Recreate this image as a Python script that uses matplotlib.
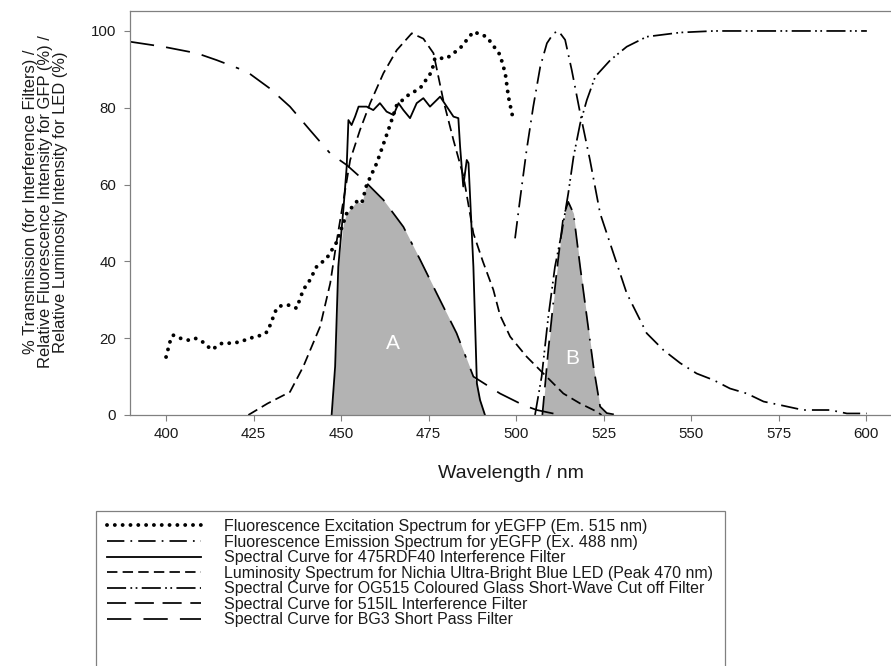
import numpy as np
import matplotlib.pyplot as plt
from matplotlib.patches import Rectangle

plt.rcParams['font.family'] = ['Liberation Sans', 'DejaVu Sans']

# Fluorescence excitation spectrum, yEGFP (dotted)
exc_x = [400, 401.1, 402, 404, 406.3, 408.3, 410.5, 413, 416, 418.5, 421, 424, 427.3, 429,
         431.6, 433, 435, 437.3, 439.2, 441, 443, 445.9, 448.8, 451.6, 454.5, 455.9, 457.3,
         460.2, 463.5, 465.9, 469.2, 472.6, 475.9, 476.8, 480.2, 484, 487.8, 491.6, 495.4,
         496.9, 497.8, 499.3]
exc_y = [15.1, 19, 20.8, 20, 19.5, 20, 19, 17, 18.7, 18.7, 19, 20, 20.8, 21.7,
         27.8, 28.5, 28.6, 27.8, 32.6, 35, 38.6, 40.8, 45.1, 52.5, 55.6, 55.1, 59.9,
         65.6, 74.2, 80.7, 83.3, 85.1, 89.4, 92.9, 92.9, 95.5, 99.8, 98.5, 93.8,
         89, 82.9, 76.4]

# Fluorescence emission spectrum, yEGFP (dash-dot)
em_x = [499.7, 501.1, 503, 504.9, 506.9, 508.8, 510.7, 512.1, 514, 515.9, 518.3, 521.1, 524,
        527.8, 531.6, 537.3, 542.1, 546.9, 551.6, 556.4, 561.1, 565.9, 570.7, 575.4, 582,
        589.7, 594.5, 600.2]
em_y = [46, 56, 69, 80.3, 90.7, 96.8, 99.4, 100, 97.7, 89.8, 78.6, 66.4, 52.5,
        42.1, 31.7, 21.3, 16.9, 13.5, 10.8, 9.1, 6.9, 5.6, 3.5, 2.6, 1.3,
        1.3, 0.4, 0.4]

# 475RDF40 interference filter (solid)
rdf_x = [447.3, 448.3, 449.2, 450.7, 451.6, 452.1, 453, 454, 455, 457.3, 459.2, 461.1, 463,
         465, 466.4, 467.8, 469.7, 471.6, 473.5, 475.4, 477.3, 478.3, 480.2, 482.1, 483.5,
         484, 484.9, 485.9, 486.4, 486.9, 487.8, 488.8, 489.7, 491.1]
rdf_y = [0, 12.6, 38.6, 54, 64.6, 76.8, 75.5, 77.7, 80.3, 80.3, 79.4, 81.2, 79,
         78.1, 81.2, 79.4, 77.3, 81.2, 82.5, 80.3, 82, 82.9, 80.3, 77.7, 77.3,
         69.9, 59.5, 66.4, 65.6, 56, 38.6, 8.2, 3.9, 0]

# Nichia blue LED luminosity (short dash)
led_x = [423.5, 429, 435.4, 439.2, 444, 446.9, 448.8, 450.7, 452.6, 455.4, 458.3, 462.1,
         465.9, 470.2, 473.5, 476.4, 479.2, 482.1, 485, 487.8, 490.5, 493.5, 495.4, 498.3,
         503, 507.8, 513.5, 518.3, 523, 524.4]
led_y = [0, 3, 6, 12.6, 23, 34.3, 45.6, 56, 66.4, 74.2, 81.2, 89,
         95, 99.4, 98, 94.2, 82, 71.6, 62, 47.3, 40, 32.6, 26, 20.4,
         15.2, 10.8, 5.6, 3, 0.9, 0]

# OG515 coloured glass (dash-dot-dot)
og_x = [505.4, 507.3, 509.2, 511.1, 513, 514.9, 516.4, 518.3, 520.2, 522.6, 526.9, 531.6,
        537.3, 546.9, 556.4, 570, 585, 600.2]
og_y = [0, 10, 25.6, 38.6, 47.3, 57.7, 67.2, 75.9, 82, 88.1, 92.4, 95.9,
        98.5, 99.6, 100, 100, 100, 100]

# 515IL interference filter
il_x = [507.5, 509.2, 510.7, 512.1, 513.5, 514.9, 516.4, 518.3, 520.2, 522.1, 524, 525.9, 528.8]
il_y = [0, 16.9, 29.9, 41.2, 51.6, 55.5, 52.5, 38.6, 25.6, 12.6, 2.2, 0.5, 0]

# BG3 short pass filter
bg_x = [389.7, 399.2, 408.8, 414.5, 423.1, 429.7, 435.4, 441.1, 446.9, 451.6, 456.4, 462.1,
        467.8, 472.6, 477.3, 483, 487.8, 491.6, 495.4, 502, 505.9, 512.6]
bg_y = [97.2, 95.9, 94.2, 92.4, 89.4, 85, 80.3, 74.2, 68.1, 65.1, 61.2, 56,
        49, 40.4, 31.7, 21.3, 10, 7.8, 5.6, 2.6, 1.3, 0]

labels = [
    "Fluorescence Excitation Spectrum for yEGFP (Em. 515 nm)",
    "Fluorescence Emission Spectrum for yEGFP (Ex. 488 nm)",
    "Spectral Curve for 475RDF40 Interference Filter",
    "Luminosity Spectrum for Nichia Ultra-Bright Blue LED (Peak 470 nm)",
    "Spectral Curve for OG515 Coloured Glass Short-Wave Cut off Filter",
    "Spectral Curve for 515IL Interference Filter",
    "Spectral Curve for BG3 Short Pass Filter",
]


def overlap(*curves):
    """Lower envelope of several (x, y) curves over the range of the first one."""
    x0 = curves[0][0]
    xs = np.unique(np.concatenate([c[0] for c in curves]))
    xs = xs[(xs >= x0[0]) & (xs <= x0[-1])]
    ys = [np.interp(xs, cx, cy, left=0, right=0) for cx, cy in curves]
    return xs, np.min(ys, axis=0)


fig = plt.figure(figsize=(8.91, 6.66), dpi=100)
ax = fig.add_axes([130 / 891, 1 - 415 / 666, 1 - 130 / 891, (415 - 11) / 666])

grey = '#808080'
fa_x, fa_y = overlap((rdf_x, rdf_y), (bg_x, bg_y), (exc_x, exc_y))
fb_x, fb_y = overlap((il_x, il_y), (og_x, og_y), (em_x, em_y))
ax.fill_between(fa_x, 0, fa_y, color='#b3b3b3', lw=0, zorder=1)
ax.fill_between(fb_x, 0, fb_y, color='#b3b3b3', lw=0, zorder=1)
ax.text(464.9, 18.7, "A", color='white', fontsize=15, ha='center', va='center', zorder=2)
ax.text(515.9, 14.8, "B", color='white', fontsize=15, ha='center', va='center', zorder=2)

lw = 1.25
ax.plot(exc_x, exc_y, color='black', lw=2.8, ls=(0, (0.01, 2.0)), dash_capstyle='round', label=labels[0])
ax.plot(em_x, em_y, color='black', lw=lw, ls=(0, (10, 3.5, 1, 3.5)), label=labels[1])
ax.plot(rdf_x, rdf_y, color='black', lw=1.3, ls='-', label=labels[2])
ax.plot(led_x, led_y, color='black', lw=lw, ls=(0, (6, 3)), label=labels[3])
ax.plot(og_x, og_y, color='black', lw=lw, ls=(0, (11, 2.5, 1, 2, 1, 2.5)), label=labels[4])
ax.plot(il_x, il_y, color='black', lw=lw, ls=(0, (11, 5, 11, 5, 11, 5, 11, 5, 1, 5)), label=labels[5])
ax.plot(bg_x, bg_y, color='black', lw=lw, ls=(0, (14, 7, 14, 7, 14, 7, 2, 7)), label=labels[6])

ax.set_xlim(389.7, 607.1)
ax.set_ylim(0, 105.2)
ax.set_xticks([400, 425, 450, 475, 500, 525, 550, 575, 600])
ax.set_yticks([0, 20, 40, 60, 80, 100])
ax.tick_params(direction='out', length=4, width=0.8, color=grey, labelsize=10.8,
               labelcolor='#1a1a1a')
ax.tick_params(axis='y', pad=6)
ax.tick_params(axis='x', pad=5)
for side in ['left', 'top', 'bottom']:
    ax.spines[side].set_color(grey)
    ax.spines[side].set_linewidth(0.9)
ax.spines['right'].set_visible(False)

ax.set_xlabel("Wavelength / nm", fontsize=14, color='#1a1a1a', labelpad=17)
fig.text(45.5 / 891, 1 - 202 / 666,
         "% Transmission (for Interference Filters) /\n"
         "Relative Fluorescence Intensity for GFP (%) /\n"
         "Relative Luminosity Intensity for LED (%)",
         rotation=90, ha='center', va='center', multialignment='center',
         fontsize=11.9, linespacing=1.02, color='#1a1a1a')

# legend box, its bottom edge falls outside the picture
fig.patches.append(Rectangle((96 / 891, -0.05), (725 - 96) / 891, 1 - 510.7 / 666 + 0.05,
                             transform=fig.transFigure, fill=False, edgecolor=grey, lw=0.9))
fig.legend(loc='upper left', bbox_to_anchor=(107 / 891, 1 - 519 / 666), frameon=False,
           borderpad=0, borderaxespad=0, handlelength=5.9, handletextpad=1.4,
           labelspacing=0.035, fontsize=11.5, labelcolor='#1a1a1a')

fig.savefig('out.png', dpi=100)
